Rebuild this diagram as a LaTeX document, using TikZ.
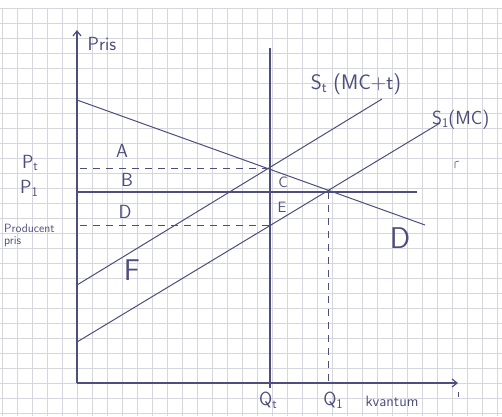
\documentclass[tikz,border=0pt]{standalone}
\usetikzlibrary{arrows.meta}
\definecolor{ink}{RGB}{78,78,125}
\definecolor{gridc}{RGB}{214,214,222}
\newcommand{\subx}[1]{\raisebox{-0.35ex}{\scalebox{0.7}{#1}}}
\begin{document}
\begin{tikzpicture}[x=1pt,y=-1pt,
  pen/.style={draw=ink, line width=1.2pt},
  thin pen/.style={draw=ink, line width=1pt},
  dash pen/.style={draw=ink, line width=1pt, dash pattern=on 7pt off 6pt},
  lbl/.style={text=ink, font=\sffamily\fontsize{19}{21}\selectfont, inner sep=0pt},
  big lbl/.style={text=ink, font=\sffamily\fontsize{30}{32}\selectfont, inner sep=0pt},
  mid lbl/.style={text=ink, font=\sffamily\fontsize{21}{23}\selectfont, inner sep=0pt},
  small lbl/.style={text=ink, font=\sffamily\fontsize{12}{12}\selectfont, inner sep=0pt, align=left}]
\useasboundingbox (0,0) rectangle (502,416);
\fill[white] (0,0) rectangle (502,416);
% graph paper
\foreach \i in {0,...,33} \draw[gridc, line width=0.7pt] ({2+15*\i},8) -- ({2+15*\i},416);
\foreach \j in {0,...,27} \draw[gridc, line width=0.7pt] (0,{8+15*\j}) -- (502,{8+15*\j});
% coordinates
\coordinate (O) at (77,383);
\coordinate (ytop) at (77,30);
\coordinate (xend) at (458,383);
\coordinate (D0) at (77,100);
\coordinate (D1) at (425,225);
\coordinate (St0) at (77,285);
\coordinate (St1) at (382,99);
\coordinate (S10) at (77,342);
\coordinate (S11) at (440,123);
\coordinate (Qttop) at (270,48);
\coordinate (Qtbot) at (270,388);
\coordinate (Q1top) at (328,192);
\coordinate (Q1bot) at (328,383);
\coordinate (Pta) at (80,168);
\coordinate (Ptb) at (270,168);
\coordinate (P1a) at (77,192);
\coordinate (P1b) at (417,192);
\coordinate (Pra) at (80,225);
\coordinate (Prb) at (270,225);
% axes
\draw[pen, -{Straight Barb[length=5pt,width=8pt]}] (O) -- (ytop);
\draw[pen, -{Straight Barb[length=5pt,width=8pt]}] (O) -- (xend);
% curves
\draw[thin pen] (D0) -- (D1);
\draw[thin pen] (St0) -- (St1);
\draw[thin pen] (S10) -- (S11);
\draw[pen] (Qttop) -- (Qtbot);
\draw[dash pen] (Q1top) -- (Q1bot);
\draw[dash pen] (Pta) -- (Ptb);
\draw[pen] (P1a) -- (P1b);
\draw[dash pen] (Pra) -- (Prb);
% labels
\node[lbl] (pris) at (102,44) {Pris};
\node[lbl] (pt) at (30,163) {P\subx{t}};
\node[lbl] (p1) at (29,188) {P\subx{1}};
\node[small lbl, anchor=west] (prod) at (4,235) {Producent\\pris};
\node[lbl] (A) at (122,151) {A};
\node[lbl] (B) at (127,180) {B};
\node[lbl] (Dl) at (125,212) {D};
\node[lbl, font=\sffamily\fontsize{15}{16}\selectfont] (C) at (283,182) {C};
\node[lbl, font=\sffamily\fontsize{15}{16}\selectfont] (E) at (282,207) {E};
\node[big lbl] (F) at (132,270) {F};
\node[big lbl] (Dd) at (400,238) {D};
\node[mid lbl] (st) at (356,84) {S\subx{t} (MC+t)};
\node[lbl, anchor=west] (s1) at (432,120) {S\subx{1}(MC)};
\node[lbl] (qt) at (268,400) {Q\subx{t}};
\node[lbl] (q1) at (333,400) {Q\subx{1}};
\node[lbl, font=\sffamily\fontsize{15}{17}\selectfont] (kv) at (392,401) {kvantum};
\draw[ink, line width=0.6pt] (455,168) -- (455,162) -- (459,161);
\draw[ink, line width=0.6pt] (458,392) -- (458,397);
\end{tikzpicture}
\end{document}
